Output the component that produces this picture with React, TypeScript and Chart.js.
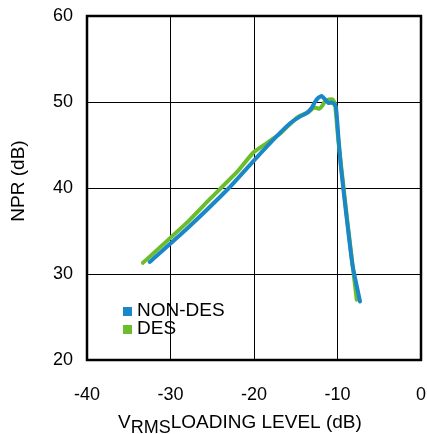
import React, { useEffect, useRef } from "react";
import { Chart, registerables } from "chart.js";

Chart.register(...registerables);

const xTicks = [-40, -30, -20, -10, 0];
const yTicks = [20, 30, 40, 50, 60];

const seriesNames = ["NON-DES", "DES"];
const seriesColors = ["#1a87c8", "#6cbd2c"];

const nonDesX = [-32.5, -28, -23, -20.1, -17.5, -15.7, -14.5, -13.7, -13.1, -12.7, -12.3, -11.9, -11.5, -11.1, -10.6, -10.2, -9.9, -9.6, -8.9, -8.2, -7.3];
const nonDesY = [31.4, 35.3, 40.0, 43.1, 45.8, 47.5, 48.3, 48.7, 49.3, 50.0, 50.5, 50.7, 50.3, 49.9, 49.9, 49.5, 46.0, 42.5, 36.5, 31.0, 26.8];

const desX = [-33.3, -28, -25.3, -22, -20.1, -18.5, -16.9, -15.3, -14.5, -13.5, -12.9, -12.5, -12.2, -11.8, -11.5, -11.0, -10.6, -10.3, -9.9, -8.8, -7.7];
const desY = [31.3, 36.0, 38.7, 41.9, 44.1, 45.2, 46.3, 47.8, 48.4, 48.8, 49.3, 49.3, 49.2, 49.6, 50.1, 50.3, 50.3, 49.8, 45.5, 36.0, 27.0];

const FONT = "'Liberation Sans', Arial, sans-serif";

const overlayPlugin = {
  id: "overlay",
  afterDraw(chart: any) {
    const ctx = chart.ctx;
    const a = chart.chartArea;
    ctx.save();
    // frame
    ctx.strokeStyle = "#000";
    ctx.lineWidth = 2.5;
    ctx.strokeRect(a.left, a.top, a.right - a.left, a.bottom - a.top);

    // legend
    ctx.textBaseline = "alphabetic";
    ctx.textAlign = "left";
    ctx.font = `19px ${FONT}`;
    chart.data.datasets.forEach((ds: any, i: number) => {
      const base = 316 + i * 18;
      ctx.fillStyle = ds.borderColor;
      ctx.fillRect(123, base - 9, 9, 9);
      ctx.fillStyle = "#000";
      ctx.fillText(ds.label, 137, base);
    });

    // x title with subscript
    ctx.font = `19px ${FONT}`;
    ctx.fillStyle = "#000";
    let x = 118;
    ctx.fillText("V", x, 428);
    x += ctx.measureText("V").width;
    ctx.font = `18px ${FONT}`;
    ctx.fillText("RMS", x, 433);
    x += ctx.measureText("RMS").width;
    ctx.font = `19px ${FONT}`;
    ctx.fillText("LOADING LEVEL (dB)", x, 428);

    // y title
    ctx.translate(19, 181);
    ctx.rotate(-Math.PI / 2);
    ctx.textAlign = "center";
    ctx.textBaseline = "middle";
    ctx.font = `19px ${FONT}`;
    ctx.fillText("NPR (dB)", 0, 0);
    ctx.restore();
  },
};

export default function App() {
  const ref = useRef<HTMLCanvasElement>(null);
  useEffect(() => {
    const toPts = (xs: number[], ys: number[]) => xs.map((v, i) => ({ x: v, y: ys[i] }));
    const chart = new Chart(ref.current!, {
      type: "scatter",
      data: {
        datasets: [
          {
            label: seriesNames[0],
            data: toPts(nonDesX, nonDesY),
            borderColor: seriesColors[0],
            backgroundColor: seriesColors[0],
            showLine: true,
            pointRadius: 0,
            borderWidth: 4,
            tension: 0.15,
            borderJoinStyle: "round",
            borderCapStyle: "round",
          },
          {
            label: seriesNames[1],
            data: toPts(desX, desY),
            borderColor: seriesColors[1],
            backgroundColor: seriesColors[1],
            showLine: true,
            pointRadius: 0,
            borderWidth: 4,
            tension: 0.15,
            borderJoinStyle: "round",
            borderCapStyle: "round",
          },
        ],
      },
      options: {
        animation: false,
        responsive: false,
        maintainAspectRatio: false,
        layout: { padding: { top: 16, right: 6, left: 0, bottom: 0 } },
        plugins: { legend: { display: false }, tooltip: { enabled: false } },
        scales: {
          x: {
            type: "linear",
            min: -40,
            max: 0,
            afterBuildTicks: (s: any) => {
              s.ticks = xTicks.map((v) => ({ value: v }));
            },
            afterFit: (s: any) => {
              s.height = 74;
              s.paddingLeft = 0;
              s.paddingRight = 0;
              s.paddingTop = 0;
              s.paddingBottom = 0;
            },
            ticks: { color: "#000", font: { size: 18, family: FONT }, padding: 24, maxRotation: 0 },
            grid: { color: "#000", lineWidth: 1, drawTicks: false },
            border: { display: false },
          },
          y: {
            type: "linear",
            min: 20,
            max: 60,
            afterBuildTicks: (s: any) => {
              s.ticks = yTicks.map((v) => ({ value: v }));
            },
            afterFit: (s: any) => {
              s.width = 87;
              s.paddingLeft = 0;
              s.paddingRight = 0;
              s.paddingTop = 0;
              s.paddingBottom = 0;
            },
            ticks: { color: "#000", font: { size: 18, family: FONT }, padding: 14 },
            grid: { color: "#000", lineWidth: 1, drawTicks: false },
            border: { display: false },
          },
        },
      },
      plugins: [overlayPlugin],
    });
    return () => chart.destroy();
  }, []);
  return (
    <div style={{ position: "fixed", left: 0, top: 0, width: 427, height: 434, background: "#fff" }}>
      <canvas ref={ref} width={427} height={434} style={{ width: 427, height: 434 }} />
    </div>
  );
}
